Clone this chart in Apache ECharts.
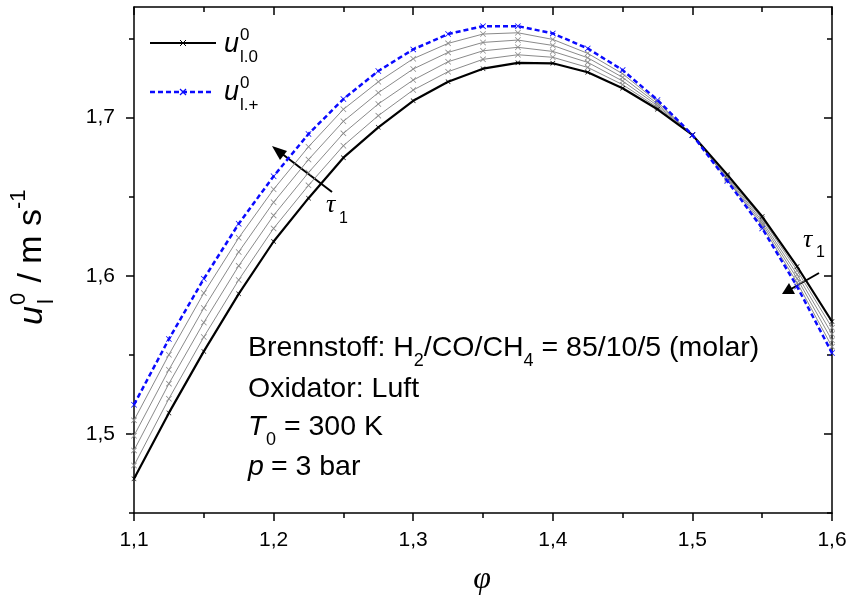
<!DOCTYPE html>
<html><head><meta charset="utf-8">
<script src="https://cdn.jsdelivr.net/npm/echarts@6/dist/echarts.min.js"></script>
<style>html,body{margin:0;padding:0;background:#fff}#c{width:847px;height:608px}</style>
</head><body><div id="c"></div>
<script>
// equivalence ratio
const phi = [1.1,1.125,1.15,1.175,1.2,1.225,1.25,1.275,1.3,1.325,1.35,1.375,1.4,1.425,1.45,1.475,1.5,1.525,1.55,1.575,1.6];
// u_l,0 (black)
const uL0 = [1.4716,1.5133,1.5522,1.5886,1.6217,1.6491,1.6747,1.6939,1.7107,1.7227,1.7310,1.7347,1.7344,1.7287,1.7186,1.7053,1.6891,1.6640,1.6375,1.6059,1.5711];
// intermediate curves (grey), from black towards blue
const uG4 = [1.4800,1.5223,1.5613,1.5974,1.6300,1.6572,1.6823,1.7013,1.7175,1.7291,1.7369,1.7398,1.7382,1.7318,1.7209,1.7065,1.6891,1.6632,1.6360,1.6034,1.5672];
const uG3 = [1.4896,1.5318,1.5705,1.6063,1.6382,1.6653,1.6901,1.7087,1.7238,1.7354,1.7423,1.7445,1.7419,1.7350,1.7232,1.7076,1.6891,1.6624,1.6345,1.6008,1.5632];
const uG2 = [1.4989,1.5406,1.5796,1.6151,1.6465,1.6735,1.6977,1.7158,1.7308,1.7413,1.7476,1.7491,1.7457,1.7379,1.7255,1.7088,1.6891,1.6616,1.6330,1.5983,1.5592];
const uG1 = [1.5086,1.5501,1.5891,1.6240,1.6547,1.6816,1.7053,1.7227,1.7373,1.7470,1.7529,1.7537,1.7495,1.7407,1.7278,1.7100,1.6891,1.6608,1.6315,1.5957,1.5552];
// u_l,+ (blue dashed)
const uLp = [1.5185,1.5600,1.5981,1.6329,1.6630,1.6897,1.7118,1.7295,1.7432,1.7529,1.7579,1.7579,1.7533,1.7438,1.7301,1.7112,1.6891,1.6600,1.6300,1.5932,1.5512];

const xTicks = [1.1,1.2,1.3,1.4,1.5,1.6];
const xMinor = [1.15,1.25,1.35,1.45,1.55];
const yTicks = [1.5,1.6,1.7];
const yMinor = [1.45,1.55,1.65,1.75];

const FONT = 'Liberation Sans';
const SERIF = 'Liberation Serif';
const fmt = v => (Math.round(v*10)/10).toFixed(1).replace('.', ',');
const X = 'path://M0,0.9L0.9,0L5,4.1L9.1,0L10,0.9L5.9,5L10,9.1L9.1,10L5,5.9L0.9,10L0,9.1L4.1,5Z';

const chart = echarts.init(document.getElementById('c'), null, {renderer:'canvas'});
const gridBox = {left:134, right:15, top:7, bottom:95, outerBoundsMode:'none'};
const lineBlack = {color:'#000', width:1.5};

function xa(grid, pos, ticks, len, inside, line, labels){
  return {type:'value', gridIndex:grid, position:pos, min:1.1, max:1.6,
    splitLine:{show:false},
    axisLine:{show:line, onZero:false, lineStyle:lineBlack},
    axisTick:{show:true, inside:inside, length:len, lineStyle:lineBlack, customValues:ticks},
    axisLabel: labels ? {show:true, customValues:ticks, formatter:fmt, fontSize:21, fontFamily:FONT, color:'#000', margin:17} : {show:false}
  };
}
function ya(grid, pos, ticks, len, inside, line, labels){
  return {type:'value', gridIndex:grid, position:pos, min:1.45, max:1.77,
    splitLine:{show:false},
    axisLine:{show:line, onZero:false, lineStyle:lineBlack},
    axisTick:{show:true, inside:inside, length:len, lineStyle:lineBlack, customValues:ticks},
    axisLabel: labels ? {show:true, customValues:ticks, formatter:fmt, fontSize:21, fontFamily:FONT, color:'#000', margin:19} : {show:false}
  };
}
const pts = arr => phi.map((x,i)=>[x, arr[i]]);
function grey(arr){
  return {type:'line', xAxisIndex:0, yAxisIndex:0, data:pts(arr), symbol:X, symbolSize:6,
    lineStyle:{color:'#8a8a8a', width:1}, itemStyle:{color:'#8a8a8a'}, z:3, silent:true};
}
// text placed by its baseline (top-aligned text: baseline ~ top + 0.82*size)
function T(x, base, text, size, opt){
  opt = opt || {};
  const fam = opt.family || FONT;
  const style = {text:text, font:(opt.italic?'italic ':'')+size+'px '+fam, fill:'#000', verticalAlign:'top'};
  if (opt.align) style.align = opt.align;
  if (opt.rich) style.rich = opt.rich;
  return {type:'text', x:x, y:base - 0.82*size, style:style};
}

chart.setOption({
  animation:false,
  backgroundColor:'#fff',
  grid:[Object.assign({}, gridBox), Object.assign({}, gridBox)],
  xAxis:[
    xa(0,'bottom',xTicks,8,false,true,true),
    xa(0,'top',xTicks,8,true,true,false),
    xa(1,'bottom',xMinor,5,false,false,false),
    xa(1,'top',xMinor,5,true,false,false)
  ],
  yAxis:[
    ya(0,'left',yTicks,8,false,true,true),
    ya(0,'right',yTicks,8,true,true,false),
    ya(1,'left',yMinor,5,false,false,false),
    ya(1,'right',yMinor,5,true,false,false)
  ],
  series:[
    grey(uG4), grey(uG3), grey(uG2), grey(uG1),
    {type:'line', name:'u0', xAxisIndex:0, yAxisIndex:0, data:pts(uL0), symbol:X, symbolSize:5,
     lineStyle:{color:'#000', width:2.2}, itemStyle:{color:'#000'}, z:4, silent:true},
    {type:'line', name:'uplus', xAxisIndex:0, yAxisIndex:0, data:pts(uLp), symbol:X, symbolSize:6,
     lineStyle:{color:'#0a0aff', width:2.5, type:[5,3]}, itemStyle:{color:'#0a0aff'}, z:5, silent:true}
  ],
  graphic:[
    // legend
    {type:'line', shape:{x1:150,y1:43,x2:216,y2:43}, style:{stroke:'#000', lineWidth:2}},
    {type:'line', shape:{x1:180,y1:40,x2:186,y2:46}, style:{stroke:'#000', lineWidth:1}},
    {type:'line', shape:{x1:186,y1:40,x2:180,y2:46}, style:{stroke:'#000', lineWidth:1}},
    T(224, 53, 'u', 27, {italic:true}),
    T(240, 41, '0', 17),
    T(240, 63, 'l.0', 17),
    {type:'line', shape:{x1:150,y1:92,x2:214,y2:92}, style:{stroke:'#0a0aff', lineWidth:2.5, lineDash:[5,3]}},
    {type:'line', shape:{x1:180,y1:89,x2:186,y2:95}, style:{stroke:'#0a0aff', lineWidth:1.2}},
    {type:'line', shape:{x1:186,y1:89,x2:180,y2:95}, style:{stroke:'#0a0aff', lineWidth:1.2}},
    T(224, 101, 'u', 27, {italic:true}),
    T(240, 89, '0', 17),
    T(240, 111, 'l.+', 17),
    // y axis title (rotated, reading bottom to top)
    {type:'group', x:43, y:325, rotation:Math.PI/2, children:[
      T(0, 0, 'u', 34, {italic:true}),
      T(20, -17, '0', 22),
      T(21, 11, 'l', 22),
      T(33, 0, ' / m s', 34),
      T(116, -17, '-1', 22)
    ]},
    // x axis title
    T(482, 590, 'φ', 32, {italic:true, family:SERIF, align:'center'}),
    // annotation block
    T(248, 357, 'Brennstoff: H{s|2}/CO/CH{s|4} = 85/10/5 (molar)', 28.5,
      {rich:{s:{fontSize:18, fontFamily:FONT, lineHeight:18, padding:[26,0,0,0]}}}),
    T(248, 398, 'Oxidator: Luft', 28.5),
    T(248, 436, 'T', 28.5, {italic:true}),
    T(266, 446, '0', 18),
    T(276, 436, ' = 300 K', 28.5),
    T(248, 476, 'p', 28.5, {italic:true}),
    T(263, 476, ' = 3 bar', 28.5),
    // arrow 1
    {type:'line', shape:{x1:332,y1:192,x2:281,y2:153}, style:{stroke:'#000', lineWidth:2}},
    {type:'polygon', shape:{points:[[272,146],[287,151],[280,160]]}, style:{fill:'#000'}},
    T(326, 213, 'τ', 26, {italic:true, family:SERIF}),
    T(339, 224, '1', 16),
    // arrow 2
    {type:'line', shape:{x1:819,y1:273,x2:791,y2:289}, style:{stroke:'#000', lineWidth:2}},
    {type:'polygon', shape:{points:[[782,294],[789,283],[795,294]]}, style:{fill:'#000'}},
    T(803, 248, 'τ', 26, {italic:true, family:SERIF}),
    T(816, 258, '1', 16)
  ]
});
</script></body></html>
